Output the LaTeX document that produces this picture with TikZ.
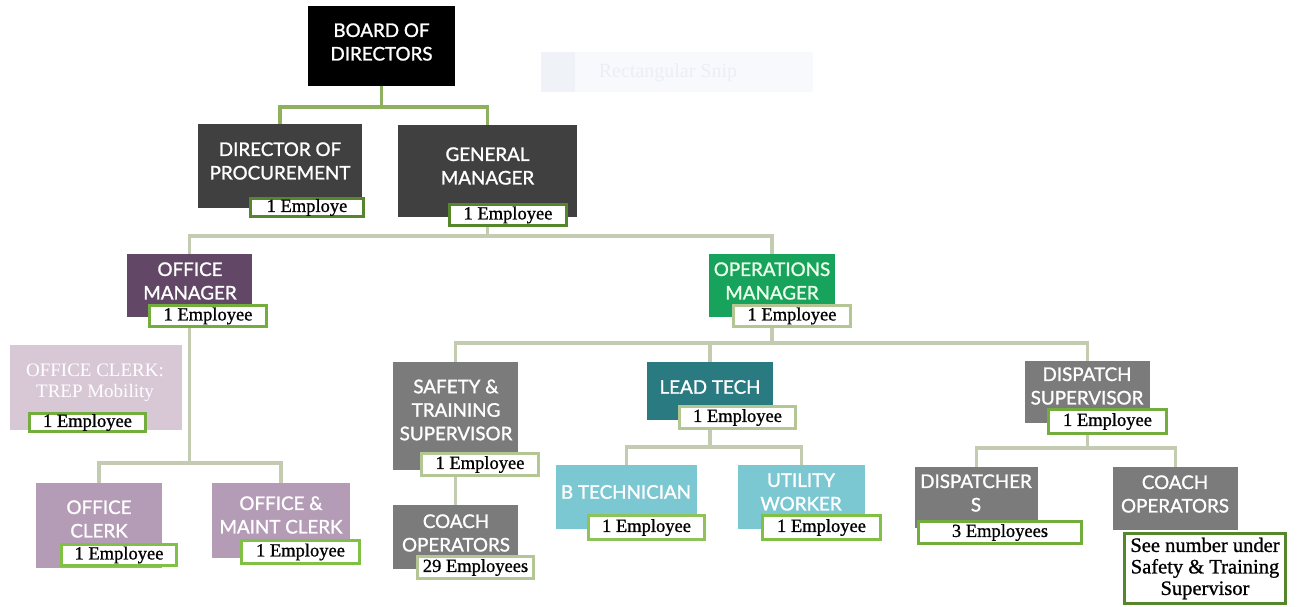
\documentclass[tikz,border=0pt]{standalone}
\usepackage{fontspec}
\setmainfont{Liberation Serif}
\newfontfamily\boxfont{Lato}[FakeBold=1.3]
\newfontfamily\labfont{Liberation Serif}[FakeBold=0.9]
\definecolor{cBlack}{HTML}{000000}
\definecolor{cDark}{HTML}{404040}
\definecolor{cOM}{HTML}{624866}
\definecolor{cTrep}{HTML}{D8C8D6}
\definecolor{cClerk}{HTML}{B49CB7}
\definecolor{cOps}{HTML}{17A35B}
\definecolor{cGray}{HTML}{7B7B7B}
\definecolor{cLT}{HTML}{2A7A82}
\definecolor{cTech}{HTML}{7CC8D2}
\definecolor{lnTop}{HTML}{8FB05E}
\definecolor{lnLow}{HTML}{C3CBB0}
\definecolor{bdDark}{HTML}{55862C}
\definecolor{bdMid}{HTML}{72AD3E}
\definecolor{bdBright}{HTML}{80C044}
\definecolor{bdPale}{HTML}{B4C694}
\definecolor{snipBg}{HTML}{F7F9FC}
\definecolor{snipIc}{HTML}{EFF3F8}
\definecolor{snipTx}{HTML}{EBEEF3}
\begin{document}
\begin{tikzpicture}[x=1pt,y=-1pt,
  box/.style={rectangle, draw=none, inner sep=0pt, outer sep=0pt},
  btxt/.style={font=\boxfont\fontsize{18.8}{23.5}\selectfont, text=white, align=center, inner sep=0pt},
  lab/.style={rectangle, draw=#1, line width=3pt, fill=white, inner sep=0pt, font=\labfont\fontsize{18.5}{21.5}\selectfont, align=center},
  conn/.style={draw=#1, line width=3.5pt},
]
\useasboundingbox (0,0) rectangle (1301,607);
% faint artefact
\node[box, fill=snipBg, minimum width=272, minimum height=40] (snip) at (677,72) {};
\node[box, fill=snipIc, minimum width=34, minimum height=40] (snipicon) at (558,72) {};
\node[inner sep=0pt, text=snipTx, font=\fontsize{20}{22}\selectfont] (sniptext) at (668,73) {Rectangular Snip};

% boxes
\node[box, fill=cBlack, minimum width=147, minimum height=80] (bod) at (381.5,46) {};
\node[box, fill=cDark, minimum width=164, minimum height=84] (dp) at (280,166) {};
\node[box, fill=cDark, minimum width=179, minimum height=92] (gm) at (487.5,171) {};
\node[box, fill=cOM, minimum width=125, minimum height=63] (om) at (189.5,285.5) {};
\node[box, fill=cTrep, minimum width=172, minimum height=85] (trep) at (96,387.5) {};
\node[box, fill=cClerk, minimum width=126, minimum height=85] (oc) at (99,525.5) {};
\node[box, fill=cClerk, minimum width=138, minimum height=75] (omc) at (281,520.5) {};
\node[box, fill=cOps, minimum width=126, minimum height=63] (ops) at (772,285.5) {};
\node[box, fill=cGray, minimum width=125, minimum height=108] (stb) at (455.5,416) {};
\node[box, fill=cGray, minimum width=125, minimum height=64] (coa) at (455.5,537) {};
\node[box, fill=cLT, minimum width=126, minimum height=58] (lt) at (710,391) {};
\node[box, fill=cTech, minimum width=141, minimum height=64] (bt) at (626.5,497) {};
\node[box, fill=cTech, minimum width=127, minimum height=64] (uw) at (801.5,497) {};
\node[box, fill=cGray, minimum width=125, minimum height=62] (ds) at (1087.5,392) {};
\node[box, fill=cGray, minimum width=123, minimum height=61] (dis) at (976.5,497.5) {};
\node[box, fill=cGray, minimum width=125, minimum height=63] (cob) at (1175.5,498.5) {};

% connectors
\coordinate (j1) at (381.5,107);
\draw[conn=lnTop] (bod.south) -- (j1);
\draw[conn=lnTop] (j1) -| (dp.north);
\draw[conn=lnTop] (j1) -| (gm.north);
\coordinate (j2) at (487.5,236);
\draw[conn=lnLow] (gm.south) -- (j2);
\draw[conn=lnLow] (j2) -| (om.north);
\draw[conn=lnLow] (j2) -| (ops.north);
\coordinate (j3) at (189.5,463);
\draw[conn=lnLow] (om.south) -- (j3);
\draw[conn=lnLow] (j3) -| (oc.north);
\draw[conn=lnLow] (j3) -| (omc.north);
\coordinate (j4) at (772,343);
\draw[conn=lnLow] (ops.south) -- (j4);
\draw[conn=lnLow] (j4) -| (stb.north);
\draw[conn=lnLow] (j4) -| (lt.north);
\draw[conn=lnLow] (j4) -| (ds.north);
\draw[conn=lnLow] (stb.south) -- (coa.north);
\coordinate (j5) at (710,447);
\draw[conn=lnLow] (lt.south) -- (j5);
\draw[conn=lnLow] (j5) -| (bt.north);
\draw[conn=lnLow] (j5) -| (uw.north);
\coordinate (j6) at (1087.5,448);
\draw[conn=lnLow] (ds.south) -- (j6);
\draw[conn=lnLow] (j6) -| (dis.north);
\draw[conn=lnLow] (j6) -| (cob.north);

% box texts
\node[btxt] (bod-t) at (381.5,42) {BOARD OF\\DIRECTORS};
\node[btxt] (dp-t) at (280,161) {DIRECTOR OF\\PROCUREMENT};
\node[btxt] (gm-t) at (487.5,166) {GENERAL\\MANAGER};
\node[btxt] (om-t) at (190,281) {OFFICE\\MANAGER};
\node[btxt, font=\fontsize{19}{21}\selectfont] (trep-t) at (95,383) {OFFICE CLERK:\\TREP Mobility};
\node[btxt] (oc-t) at (99,519) {OFFICE\\CLERK};
\node[btxt] (omc-t) at (281,515) {OFFICE \&\\MAINT CLERK};
\node[btxt, text=green!8!white] (ops-t) at (772,281) {OPERATIONS\\MANAGER};
\node[btxt] (stb-t) at (456,410) {SAFETY \&\\TRAINING\\SUPERVISOR};
\node[btxt] (coa-t) at (456,533) {COACH\\OPERATORS};
\node[btxt] (lt-t) at (710,387) {LEAD TECH};
\node[btxt] (bt-t) at (626,492) {B TECHNICIAN};
\node[btxt] (uw-t) at (801,492) {UTILITY\\WORKER};
\node[btxt] (ds-t) at (1087,386) {DISPATCH\\SUPERVISOR};
\node[btxt] (dis-t) at (976,493) {DISPATCHER\\S};
\node[btxt] (cob-t) at (1175,494) {COACH\\OPERATORS};

% employee labels
\node[lab=bdDark, minimum width=113, minimum height=18] (dp-l) at (307,207.5) {1 Employe};
\node[lab=bdDark, minimum width=117, minimum height=21] (gm-l) at (508,215) {1 Employee};
\node[lab=bdMid, minimum width=117, minimum height=21] (om-l) at (208,316) {1 Employee};
\node[lab=bdMid, minimum width=116, minimum height=18] (trep-l) at (87.5,422.5) {1 Employee};
\node[lab=bdBright, minimum width=115, minimum height=21] (oc-l) at (119,555) {1 Employee};
\node[lab=bdBright, minimum width=118, minimum height=23] (omc-l) at (300.5,552) {1 Employee};
\node[lab=bdPale, minimum width=117, minimum height=21] (ops-l) at (792,316) {1 Employee};
\node[lab=bdPale, minimum width=117, minimum height=22] (stb-l) at (480,464.5) {1 Employee};
\node[lab=bdPale, minimum width=116, minimum height=22] (coa-l) at (475.5,567.5) {29 Employees};
\node[lab=bdPale, minimum width=116, minimum height=22] (lt-l) at (737.5,417.5) {1 Employee};
\node[lab=bdBright!70!bdPale, minimum width=116, minimum height=24] (bt-l) at (646.5,527.5) {1 Employee};
\node[lab=bdBright, minimum width=118, minimum height=24] (uw-l) at (821.5,527.5) {1 Employee};
\node[lab=bdMid, minimum width=118, minimum height=24] (ds-l) at (1107.5,421.5) {1 Employee};
\node[lab=bdMid, minimum width=163, minimum height=22] (dis-l) at (1000,532.5) {3 Employees};
\node[lab=bdDark, minimum width=161, minimum height=70, font=\labfont\fontsize{20.5}{21.5}\selectfont] (cob-l) at (1205,568.5) {See number under\\Safety \& Training\\Supervisor};
\end{tikzpicture}
\end{document}
